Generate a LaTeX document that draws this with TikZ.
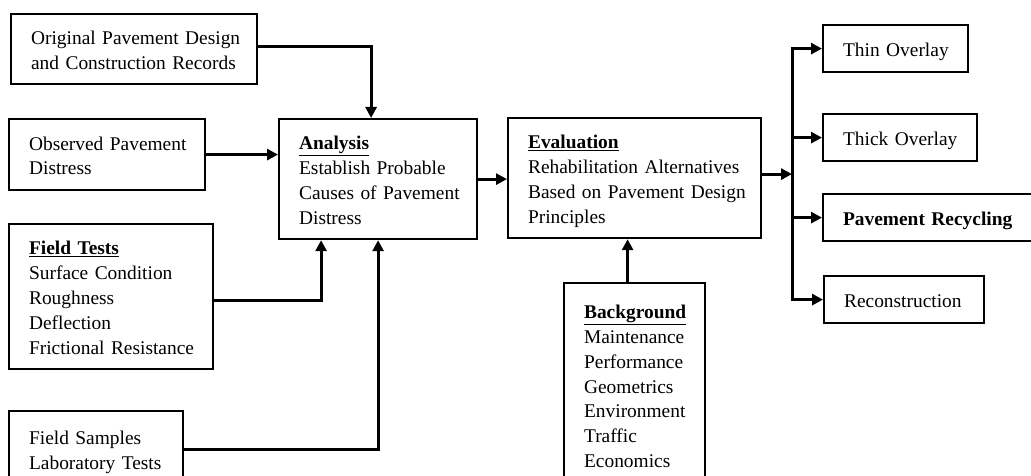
\documentclass[tikz,border=0pt]{standalone}
\usepackage{fontspec}
\setmainfont{Liberation Serif}
\usetikzlibrary{arrows.meta}
\newcommand{\boxtext}[1]{\raisebox{0pt}[\height][\dimexpr\depth-6pt\relax]{\begin{tabular}{@{}l@{}}#1\end{tabular}}}
\newcommand{\hd}[1]{\underline{\textbf{#1}}}
\begin{document}
\begin{tikzpicture}[x=1pt,y=-1pt,
  font=\fontsize{19.4}{24.8}\selectfont,
  box/.style={draw, line width=2.2pt, anchor=north west, align=left,
    inner xsep=20pt, inner ysep=0pt},
  arr/.style={line width=3pt, -{Triangle[length=11pt,width=11pt]}}]
\useasboundingbox[fill=white] (0,0) rectangle (1031,476);
\begin{scope}
\clip (0,0) rectangle (1031,476);
% left column
\node[box, text width=206pt, minimum height=70pt] (b1) at (10,13)
  {\boxtext{Original Pavement Design\\and Construction Records}};
\node[box, text width=156pt, minimum height=71pt] (b2) at (8,118)
  {\boxtext{Observed Pavement\\Distress}};
\node[box, text width=164pt, minimum height=145pt] (ft) at (8,223)
  {\boxtext{\hd{Field Tests}\\Surface Condition\\Roughness\\Deflection\\Frictional Resistance}};
\node[box, text width=134pt, minimum height=76pt] (fs) at (8,410)
  {\boxtext{Field Samples\\Laboratory Tests}};
% middle
\node[box, text width=158pt, minimum height=120pt] (an) at (278,118)
  {\boxtext{\hd{Analysis}\\Establish Probable\\Causes of Pavement\\Distress}};
\node[box, text width=213pt, minimum height=120pt] (ev) at (507,117)
  {\boxtext{\hd{Evaluation}\\Rehabilitation Alternatives\\Based on Pavement Design\\Principles}};
\node[box, text width=101pt, minimum height=204pt] (bg) at (563,282)
  {\boxtext{\hd{Background}\\Maintenance\\Performance\\Geometrics\\Environment\\Traffic\\Economics}};
% right column
\node[box, text width=105pt, minimum height=47pt] (t1) at (822,24)
  {\boxtext{Thin Overlay}};
\node[box, text width=114pt, minimum height=47pt] (t2) at (822,113)
  {\boxtext{Thick Overlay}};
\node[box, text width=180pt, minimum height=47pt] (t3) at (822,193)
  {\boxtext{\textbf{Pavement Recycling}}};
\node[box, text width=120pt, minimum height=47pt] (t4) at (823,275)
  {\boxtext{Reconstruction}};
\coordinate (bus) at (792,173);
% connectors
\draw[arr] ([yshift=3pt]b1.east) -| ([xshift=-7pt]an.north);
\draw[arr] (b2.east) -- (b2.east -| an.west);
\draw[arr] ([yshift=-4pt]ft.east) -| ([xshift=-57pt]an.south);
\draw[arr] (fs.east) -| (an.south);
\draw[arr] (an.east) -- (an.east -| ev.west);
\draw[arr] ([xshift=-7pt]bg.north) -- ([xshift=-7pt]ev.south);
\draw[arr] ([yshift=4pt]ev.east) -- ([yshift=4pt]ev.east -| bus);
\draw[arr] (t4.west -| bus) |- (t1.west);
\draw[arr] (t1.west -| bus) |- (t4.west);
\draw[arr] (t2.west -| bus) -- (t2.west);
\draw[arr] (t3.west -| bus) -- (t3.west);
\end{scope}
\end{tikzpicture}
\end{document}
